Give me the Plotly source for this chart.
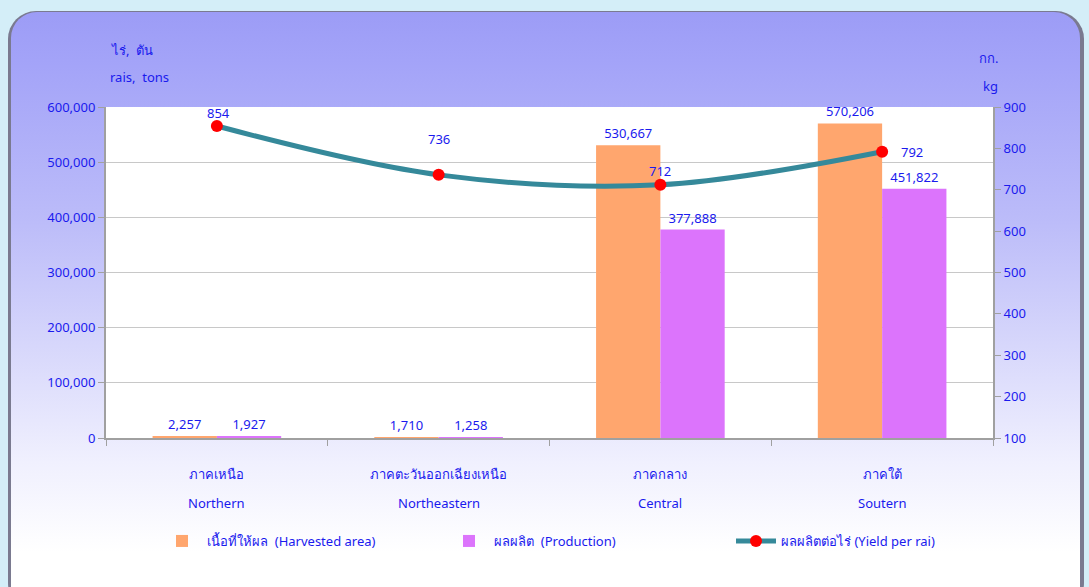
import base64
import plotly.graph_objects as go

categories = ["ภาคเหนือ", "ภาคตะวันออกเฉียงเหนือ", "ภาคกลาง", "ภาคใต้"]
categories_en = ["Northern", "Northeastern", "Central", "Soutern"]
harvested_area = [2257, 1710, 530667, 570206]
production = [1927, 1258, 377888, 451822]
yield_per_rai = [854, 736, 712, 792]

left_ticks = [0, 100000, 200000, 300000, 400000, 500000, 600000]
right_ticks = [100, 200, 300, 400, 500, 600, 700, 800, 900]

# label offsets for yield labels (style)
yield_label_shift = [(2, 13), (0, 36), (0, 14), (30, 0)]

FONT = "Noto Sans, DejaVu Sans, sans-serif"
BLUE = "#1a1aee"

svg = """<svg xmlns='http://www.w3.org/2000/svg' width='1089' height='587' viewBox='0 0 1089 587'>
<defs>
<linearGradient id='g' x1='0' y1='0' x2='0' y2='1'>
<stop offset='0' stop-color='#9c9cf6'/>
<stop offset='0.08' stop-color='#a3a3f8'/>
<stop offset='0.35' stop-color='#bcbcf9'/>
<stop offset='0.55' stop-color='#d6d6fb'/>
<stop offset='0.75' stop-color='#f0f0fe'/>
<stop offset='0.9' stop-color='#ffffff'/>
<stop offset='1' stop-color='#ffffff'/>
</linearGradient>
</defs>
<rect x='0' y='0' width='1089' height='587' fill='#d4eef8'/>
<rect x='8' y='11' width='1076' height='600' rx='28' ry='28' fill='#7a7a90'/>
<rect x='11' y='12' width='1069' height='600' rx='26' ry='26' fill='url(#g)'/>
</svg>"""
bg_src = "data:image/svg+xml;base64," + base64.b64encode(svg.encode("utf-8")).decode()

fig = go.Figure()

fig.add_trace(go.Bar(
    x=categories, y=harvested_area, name="เนื้อที่ให้ผล  (Harvested area)",
    marker=dict(color="#ffa66e", line=dict(width=0)),
    text=[f"{v:,}" for v in harvested_area], textposition="outside",
    textfont=dict(color=BLUE, size=13, family=FONT), cliponaxis=False,
))
fig.add_trace(go.Bar(
    x=categories, y=production, name="ผลผลิต  (Production)",
    marker=dict(color="#dc74fc", line=dict(width=0)),
    text=[f"{v:,}" for v in production], textposition="outside",
    textfont=dict(color=BLUE, size=13, family=FONT), cliponaxis=False,
))
fig.add_trace(go.Scatter(
    x=categories, y=yield_per_rai, name="ผลผลิตต่อไร่ (Yield per rai)",
    yaxis="y2", mode="lines+markers",
    line=dict(color="#35899a", width=5, shape="spline", smoothing=1.0),
    marker=dict(color="#ff0000", size=12),
    cliponaxis=False,
))

L, R, T, B = 106, 96, 107, 149
PW, PH = 1089 - L - R, 587 - T - B

annotations = []
for c, v, (dx, dy) in zip(categories, yield_per_rai, yield_label_shift):
    annotations.append(dict(x=c, y=v, xref="x", yref="y2", text=str(v),
                            showarrow=False, xshift=dx, yshift=dy,
                            xanchor="center", yanchor="middle",
                            font=dict(color=BLUE, size=13, family=FONT)))
for c, th, en in zip(categories, categories, categories_en):
    annotations.append(dict(x=c, y=-(474 - 438) / PH, xref="x", yref="paper", text=th,
                            showarrow=False, xanchor="center", yanchor="middle",
                            font=dict(color=BLUE, size=13, family=FONT)))
    annotations.append(dict(x=c, y=-(503 - 438) / PH, xref="x", yref="paper", text=en,
                            showarrow=False, xanchor="center", yanchor="middle",
                            font=dict(color=BLUE, size=13, family=FONT)))
header = [("ไร่,  ตัน", 132, 50), ("rais,  tons", 139, 77), ("กก.", 988, 58), ("kg", 990, 86)]
for txt, px, py in header:
    annotations.append(dict(x=(px - L) / PW, y=(587 - B - py) / PH, xref="paper", yref="paper",
                            text=txt, showarrow=False, xanchor="center", yanchor="middle",
                            font=dict(color=BLUE, size=13, family=FONT)))

fig.update_layout(
    width=1089, height=587,
    margin=dict(l=L, r=R, t=T, b=B),
    paper_bgcolor="rgba(0,0,0,0)",
    plot_bgcolor="#ffffff",
    font=dict(family=FONT, color=BLUE, size=13),
    barmode="group", bargap=0.42, bargroupgap=0,
    showlegend=True,
    legend=dict(orientation="h", x=0.5 + 38 / PW, xanchor="center", y=-(541 - 438) / PH,
                yanchor="middle", font=dict(color=BLUE, size=13, family=FONT),
                bgcolor="rgba(0,0,0,0)", itemwidth=40, entrywidth=232, entrywidthmode="pixels"),
    xaxis=dict(showticklabels=False, ticks="outside", tickson="boundaries",
               ticklen=6, tickcolor="#a0a0a0", showline=True, linecolor="#a0a0a0",
               linewidth=2, mirror=False, showgrid=False),
    yaxis=dict(range=[0, 600000], tickvals=left_ticks,
               ticktext=[f"{v:,}" for v in left_ticks], ticks="outside",
               ticklen=6, tickcolor="#a0a0a0", showline=True, linecolor="#a0a0a0",
               linewidth=2, gridcolor="#c8c8c8", gridwidth=1, zeroline=False,
               tickfont=dict(color=BLUE, size=13, family=FONT)),
    yaxis2=dict(range=[100, 900], tickvals=right_ticks, overlaying="y", side="right",
                ticks="outside", ticklen=6, tickcolor="#a0a0a0", showline=True,
                linecolor="#a0a0a0", linewidth=2, showgrid=False, zeroline=False,
                tickfont=dict(color=BLUE, size=13, family=FONT)),
    annotations=annotations,
)

post = (
    "document.body.style.margin='0';"
    "document.body.style.overflow='hidden';"
    "document.body.style.background=\"url('" + bg_src + "') no-repeat 0 0\";"
    "document.body.style.backgroundSize='1089px 587px';"
)
fig.write_html("out.html", config={"displayModeBar": False}, post_script=post)
